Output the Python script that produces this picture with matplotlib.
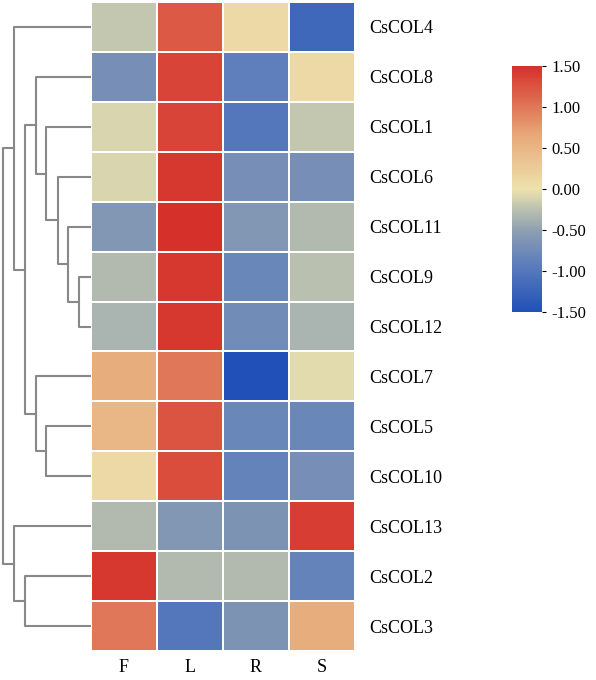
import matplotlib
matplotlib.use("Agg")
import matplotlib.pyplot as plt
import numpy as np
from matplotlib.colors import LinearSegmentedColormap

plt.rcParams['font.family'] = ['Liberation Serif', 'DejaVu Serif']

genes = ["CsCOL4","CsCOL8","CsCOL1","CsCOL6","CsCOL11","CsCOL9","CsCOL12",
         "CsCOL7","CsCOL5","CsCOL10","CsCOL13","CsCOL2","CsCOL3"]
tissues = ["F","L","R","S"]
F = [-0.2,-0.7,-0.1,-0.1,-0.6,-0.3,-0.35,0.6,0.5,0.1,-0.3,1.45,1.0]
L = [1.2,1.35,1.35,1.45,1.5,1.45,1.45,1.0,1.25,1.3,-0.6,-0.3,-1.0]
R = [0.1,-0.9,-1.0,-0.7,-0.6,-0.8,-0.75,-1.5,-0.8,-0.85,-0.65,-0.3,-0.65]
S = [-1.2,0.1,-0.2,-0.7,-0.3,-0.25,-0.35,-0.05,-0.8,-0.7,1.4,-0.85,0.6]

# dendrogram merges: (left node, right node, height); leaves 0..12 in row order, new nodes 13..
merges = [(5,6,12),(4,13,23),(3,14,33),(2,15,45),(1,16,55),
          (8,9,45),(7,18,55),(17,19,66),(0,20,77),
          (11,12,66),(10,22,77),(21,23,88)]

data = np.array([F,L,R,S]).T
cmap = LinearSegmentedColormap.from_list("c", [(0,"#2150b8"),(0.2,"#5f7fbc"),(0.33,"#8e9fb0"),
                                               (0.42,"#bcc2b0"),(0.5,"#ede2ae"),(0.72,"#e8a878"),(1,"#d5302a")])

fig = plt.figure(figsize=(5.96,6.8), dpi=100)
W,H = 596,680
x0,x1,y0,y1 = 91,355,2,651
ax = fig.add_axes([x0/W, 1-y1/H, (x1-x0)/W, (y1-y0)/H])
ax.pcolormesh(data, cmap=cmap, vmin=-1.5, vmax=1.5, edgecolors="white", linewidth=1.2)
ax.set_xlim(0,4); ax.set_ylim(len(genes),0)
ax.set_xticks(np.arange(4)+0.5); ax.set_xticklabels(tissues, fontsize=13)
ax.yaxis.tick_right()
ax.set_yticks(np.arange(len(genes))+0.5); ax.set_yticklabels(genes, fontsize=13)
ax.tick_params(axis='y', length=0, pad=10)
ax.tick_params(axis='x', length=0, pad=6)
for s in ax.spines.values(): s.set_visible(False)

dax = fig.add_axes([0, 1-y1/H, x0/W, (y1-y0)/H])
pos = {i: i+0.5 for i in range(len(genes))}
hgt = {i: 0 for i in range(len(genes))}
n = len(genes)
for k,(a,b,h) in enumerate(merges):
    dax.plot([hgt[a],h,h,hgt[b]],[pos[a],pos[a],pos[b],pos[b]], color="#888888", lw=1.5)
    pos[n+k] = (pos[a]+pos[b])/2; hgt[n+k] = h
dax.set_xlim(91,0); dax.set_ylim(n,0); dax.axis("off")

cax = fig.add_axes([512/W, 1-312/H, 30/W, 246/H])
sm = plt.cm.ScalarMappable(cmap=cmap, norm=plt.Normalize(-1.5,1.5))
cb = fig.colorbar(sm, cax=cax, ticks=[-1.5,-1,-0.5,0,0.5,1,1.5])
cb.ax.set_yticklabels(["-1.50","-1.00","-0.50","0.00","0.50","1.00","1.50"], fontsize=12)
cb.outline.set_visible(False); cb.ax.tick_params(length=3)
fig.savefig("out.png", dpi=100)
